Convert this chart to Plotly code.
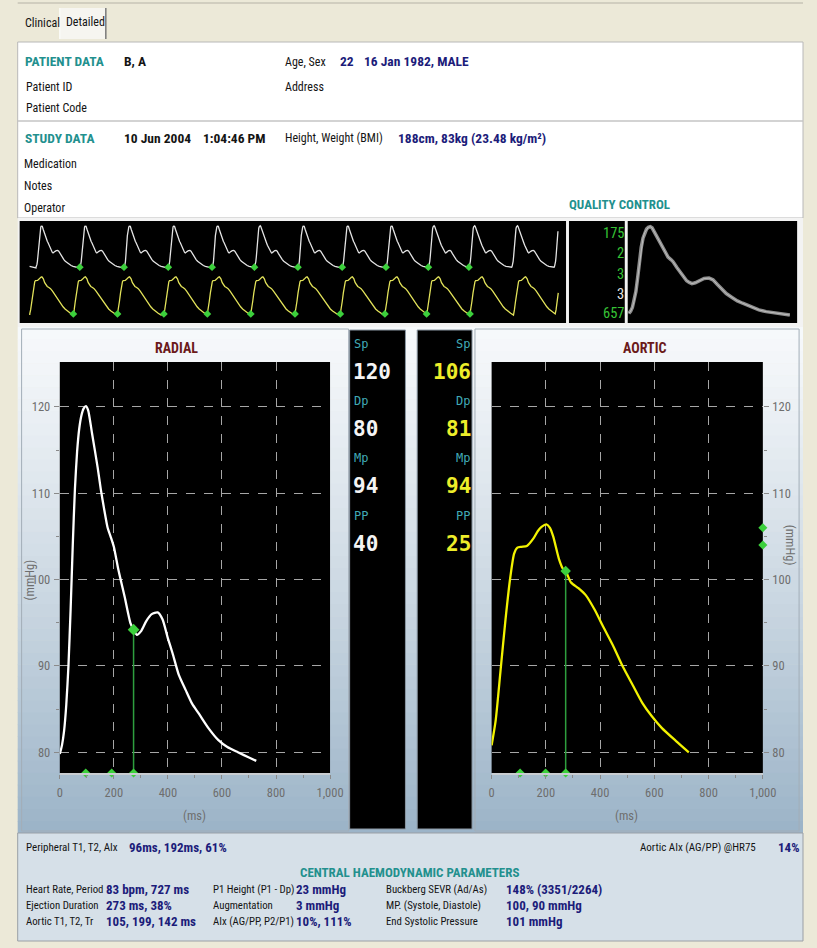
import numpy as np
import plotly.graph_objects as go

W, H = 817, 948

# ---------------- data ----------------
# One averaged radial (peripheral) beat: time (ms) / pressure (mmHg)
radial_t = [0, 8, 16, 24, 32, 40, 48, 56, 64, 72, 80, 88, 97, 105, 120, 140, 152, 165, 177,
            190, 200, 217, 240, 261, 273, 285, 300, 320, 340, 362, 380, 400, 417, 440, 466,
            490, 514, 550, 587, 620, 659, 700, 727]
radial_p = [79.8, 80.8, 82.5, 85.5, 90.0, 96.5, 104.0, 110.5, 114.8, 117.5, 119.0, 119.8, 120.1,
            119.6, 116.8, 113.0, 110.4, 108.0, 106.0, 104.8, 103.8, 101.1, 98.0, 95.0, 94.2,
            93.6, 94.0, 95.2, 96.0, 96.2, 95.4, 93.2, 91.5, 89.0, 87.2, 85.6, 84.5, 82.8, 81.4,
            80.6, 80.0, 79.4, 79.0]

# Derived central (aortic) beat
aortic_t = [0, 15, 33, 51, 69, 83, 95, 110, 130, 155, 170, 184, 202, 215, 227, 249, 262, 273,
            292, 320, 347, 380, 412, 450, 484, 520, 556, 590, 628, 680, 727]
aortic_p = [80.8, 83.7, 89.5, 95.3, 100.3, 103.0, 103.7, 103.8, 103.9, 104.8, 105.6, 106.1,
            106.4, 106.0, 105.0, 102.3, 101.3, 101.0, 99.7, 99.0, 98.2, 96.5, 94.5, 92.2, 89.9,
            87.8, 85.7, 84.2, 82.8, 81.3, 80.0]

# Beat onsets (ms) along the capture strip
radial_onsets = [273, 1005, 1744, 2483, 3215, 3923, 4650, 5389, 6121, 6829, 7507, 8222, 8931]
aortic_onsets = [169, 897, 1635, 2410, 3136, 3862, 4601, 5358, 6103, 6800, 7525, 8253, 8949]
strip_start, strip_end = 160, 9000

# Timing markers (ms)
peripheral_t1, peripheral_t2 = 96, 192
aortic_t1, aortic_t2 = 105, 199
ejection_duration = 273

pressure_names = ["Sp", "Dp", "Mp", "PP"]
radial_pressures = [120, 80, 94, 40]
aortic_pressures = [106, 81, 94, 25]
p1_height = 23

qc_values = ["175", "2", "3", "3", "657"]

ms_ticks = [0, 200, 400, 600, 800, 1000]
ms_minor = [100, 300, 500, 700, 900]
mmhg_ticks = [80, 90, 100, 110, 120]
mmhg_minor = [85, 95, 105, 115]

# ---------------- styling ----------------
NARROW = "Roboto Condensed, DejaVu Sans Condensed, sans-serif"
MONO = "DejaVu Sans Mono, Liberation Mono, monospace"
TEAL = "#22908E"
NAVY = "#1C1C7A"
INK = "#141414"
GREEN = "#3CD03C"
GREEN_LINE = "#2E9E3E"
TICK_TXT = "#6E6E6E"


def fx(px):
    return px / W


def fy(py):
    return 1 - py / H


shapes = []
annotations = []


def rect(x0, y0, x1, y1, fill, line=None, lw=1):
    shapes.append(dict(type="rect", xref="paper", yref="paper", layer="below",
                       x0=fx(x0), x1=fx(x1), y0=fy(y1), y1=fy(y0), fillcolor=fill,
                       line=dict(color=line if line else fill, width=lw if line else 0)))


def seg(x0, y0, x1, y1, color, lw=1):
    shapes.append(dict(type="line", xref="paper", yref="paper", layer="below",
                       x0=fx(x0), x1=fx(x1), y0=fy(y0), y1=fy(y1),
                       line=dict(color=color, width=lw)))


def text(s, px, py, size=12, color=INK, bold=False, anchor="left", family=NARROW, angle=0):
    annotations.append(dict(text=f"<b>{s}</b>" if bold else s, x=fx(px), y=fy(py),
                            xref="paper", yref="paper", xanchor=anchor, yanchor="middle",
                            showarrow=False, textangle=angle, borderpad=0,
                            font=dict(family=family, size=size, color=color)))


def hex_mix(c0, c1, t):
    a = [int(c0[i:i + 2], 16) for i in (1, 3, 5)]
    b = [int(c1[i:i + 2], 16) for i in (1, 3, 5)]
    return "#" + "".join(f"{round(a[k] + (b[k] - a[k]) * t):02x}" for k in range(3))


# ---------------- window furniture ----------------
seg(15, 3, 817, 3, "#B5B2A6", 1)
rect(58, 8, 105, 39, "#F6F5F0")
seg(105, 8, 105, 39, "#7A7A7A", 1.5)
seg(58, 8, 58, 39, "#FFFFFF", 1)
text("Clinical", 21, 23, 12)
text("Detailed", 63, 22, 12)

rect(15, 42, 817, 218, "#FFFFFF", "#B8B8B8", 1)
seg(15, 121, 817, 121, "#C4C4C4", 1.5)

text("PATIENT DATA", 21, 61, 13.5, TEAL, bold=True)
text("B, A", 123, 61, 13.5, INK, bold=True)
text("Age, Sex", 287, 62, 12)
text("22", 343, 61, 13.5, NAVY, bold=True)
text("16 Jan 1982, MALE", 368, 61, 13.5, NAVY, bold=True)
text("Patient ID", 22, 87, 12)
text("Address", 287, 87, 12)
text("Patient Code", 22, 108, 12)

text("STUDY DATA", 21, 138, 13.5, TEAL, bold=True)
text("10 Jun 2004", 123, 138, 13.5, INK, bold=True)
text("1:04:46 PM", 203, 138, 13.5, INK, bold=True)
text("Height, Weight (BMI)", 287, 138, 12)
text("188cm, 83kg (23.48 kg/m²)", 402, 138, 13.5, NAVY, bold=True)
text("Medication", 20, 164, 12)
text("Notes", 20, 186, 12)
text("Operator", 20, 208, 12)
text("QUALITY CONTROL", 630, 205, 13, TEAL, bold=True, anchor="center")

# strip row
rect(15, 218, 817, 327, "#F3F3F3")
rect(17, 221, 575, 323, "#000000")
rect(578, 221, 635, 323, "#000000")
rect(638, 221, 811, 323, "#000000")

# lower panels: vertical gradient
n_stripes = 42
top_y, bot_y = 327, 833
for i in range(n_stripes):
    y0 = top_y + (bot_y - top_y) * i / n_stripes
    y1 = top_y + (bot_y - top_y) * (i + 1) / n_stripes + 0.5
    t = (i + 0.5) / n_stripes
    rect(15, y0, 817, y1, hex_mix("#F7F9FB", "#9BB3C7", t ** 1.15))
rect(19, 329, 353, 831, "rgba(0,0,0,0)", "#A3AEB8", 1)
rect(482, 329, 813, 831, "rgba(0,0,0,0)", "#A3AEB8", 1)
rect(354, 330, 411, 829, "#000000", "#8C98A4", 1)
rect(423, 330, 479, 829, "#000000", "#8C98A4", 1)
rect(58, 362, 334, 773, "#000000")
rect(499, 362, 776, 773, "#000000")

# bottom parameter block
rect(15, 833, 817, 941, "#D6E0E8", "#9A9FA5", 1)

# ---------------- panel text ----------------
text("RADIAL", 177, 348, 14, "#6B1A1A", bold=True, anchor="center")
text("AORTIC", 655, 348, 14, "#6B1A1A", bold=True, anchor="center")
text("(mmHg)", 27, 580, 12.5, TICK_TXT, anchor="center", angle=-90)
text("(mmHg)", 805, 545, 12.5, TICK_TXT, anchor="center", angle=90)
text("(ms)", 196, 815, 12.5, TICK_TXT, anchor="center")
text("(ms)", 637, 815, 12.5, TICK_TXT, anchor="center")

row_y = [344, 401, 458, 516]
for k, name in enumerate(pressure_names):
    text(name, 357, row_y[k], 12, "#40AAB6", family=MONO)
    text(str(radial_pressures[k]), 356, row_y[k] + 28, 21, "#F4F4F4", bold=True, family=MONO)
    text(name, 478, row_y[k], 12, "#40AAB6", family=MONO, anchor="right")
    text(str(aortic_pressures[k]), 479, row_y[k] + 28, 21, "#EDED2A", bold=True,
         family=MONO, anchor="right")

qc_y = [234, 254, 274, 294, 313]
for k, v in enumerate(qc_values):
    text(v, 635, qc_y[k], 14.5, "#E6E6E6" if k == 3 else "#36C236", anchor="right")

# ---------------- bottom block text ----------------
text("Peripheral T1, T2, AIx", 22, 847, 11)
text("96ms, 192ms, 61%", 128, 847, 13, NAVY, bold=True)
text("Aortic AIx (AG/PP) @HR75", 650, 847, 11)
text("14%", 790, 847, 13, NAVY, bold=True)
text("CENTRAL HAEMODYNAMIC PARAMETERS", 415, 872, 13, TEAL, bold=True, anchor="center")

col_labels = [
    ["Heart Rate, Period", "Ejection Duration", "Aortic T1, T2, Tr"],
    ["P1 Height (P1 - Dp)", "Augmentation", "AIx (AG/PP, P2/P1)"],
    ["Buckberg SEVR (Ad/As)", "MP. (Systole, Diastole)", "End Systolic Pressure"],
]
col_values = [
    ["83 bpm, 727 ms", "273 ms, 38%", "105, 199, 142 ms"],
    ["23 mmHg", "3 mmHg", "10%, 111%"],
    ["148% (3351/2264)", "100, 90 mmHg", "101 mmHg"],
]
label_x = [22, 213, 390]
value_x = [104, 298, 513]
rows_y = [889, 905, 921]
for c in range(3):
    for r in range(3):
        text(col_labels[c][r], label_x[c], rows_y[r], 10.8)
        text(col_values[c][r], value_x[c], rows_y[r], 13, NAVY, bold=True)


# ---------------- traces ----------------
def tile(beat_t, beat_p, onsets, t0, t1):
    starts = [onsets[0] - beat_t[-1]] + list(onsets)
    ends = list(onsets) + [t1]
    xs, ys = [], []
    for s, e in zip(starts, ends):
        for bt, bp in zip(beat_t, beat_p):
            t = s + bt
            if t0 <= t <= e:
                xs.append(t)
                ys.append(bp)
    return xs, ys


fig = go.Figure()

sx, sy = tile(radial_t, radial_p, radial_onsets, strip_start, strip_end)
fig.add_trace(go.Scatter(x=sx, y=sy, mode="lines", line=dict(color="#E4E4E4", width=1.3),
                         xaxis="x", yaxis="y"))
fig.add_trace(go.Scatter(x=radial_onsets[1:11], y=[radial_p[0]] * 10, mode="markers",
                         marker=dict(symbol="diamond", size=6, color=GREEN),
                         xaxis="x", yaxis="y"))

ax_, ay_ = tile(aortic_t, aortic_p, aortic_onsets, strip_start, strip_end)
fig.add_trace(go.Scatter(x=ax_, y=ay_, mode="lines", line=dict(color="#E2E25A", width=1.3),
                         xaxis="x2", yaxis="y2"))
fig.add_trace(go.Scatter(x=aortic_onsets[1:11], y=[aortic_p[0]] * 10, mode="markers",
                         marker=dict(symbol="diamond", size=6, color=GREEN),
                         xaxis="x2", yaxis="y2"))

# quality-control overlay of the radial beat
fig.add_trace(go.Scatter(x=radial_t, y=radial_p, mode="lines",
                         line=dict(color="#8E8E8E", width=3.5), xaxis="x3", yaxis="y3"))
fig.add_trace(go.Scatter(x=radial_t, y=radial_p, mode="lines",
                         line=dict(color="#BDBDBD", width=1), xaxis="x3", yaxis="y3"))

y_lo, y_hi = 77.6, 125.2

# radial panel
rad_es = float(np.interp(ejection_duration, radial_t, radial_p))
fig.add_trace(go.Scatter(x=[ejection_duration, ejection_duration], y=[y_lo, rad_es],
                         mode="lines", line=dict(color=GREEN_LINE, width=1.5),
                         xaxis="x4", yaxis="y4"))
fig.add_trace(go.Scatter(x=radial_t, y=radial_p, mode="lines",
                         line=dict(color="#FFFFFF", width=2.3, shape="spline", smoothing=0.6),
                         xaxis="x4", yaxis="y4"))
fig.add_trace(go.Scatter(x=[ejection_duration], y=[rad_es], mode="markers",
                         marker=dict(symbol="diamond", size=9, color=GREEN),
                         xaxis="x4", yaxis="y4"))
fig.add_trace(go.Scatter(x=[peripheral_t1, peripheral_t2, ejection_duration], y=[y_lo] * 3,
                         mode="markers", cliponaxis=False,
                         marker=dict(symbol="diamond", size=7, color=GREEN),
                         xaxis="x4", yaxis="y4"))

# aortic panel
aor_es = float(np.interp(ejection_duration, aortic_t, aortic_p))
fig.add_trace(go.Scatter(x=[ejection_duration, ejection_duration], y=[y_lo, aor_es],
                         mode="lines", line=dict(color=GREEN_LINE, width=1.5),
                         xaxis="x5", yaxis="y5"))
fig.add_trace(go.Scatter(x=aortic_t, y=aortic_p, mode="lines",
                         line=dict(color="#F2F200", width=2.3, shape="spline", smoothing=0.6),
                         xaxis="x5", yaxis="y5"))
fig.add_trace(go.Scatter(x=[ejection_duration], y=[aor_es], mode="markers",
                         marker=dict(symbol="diamond", size=8, color=GREEN),
                         xaxis="x5", yaxis="y5"))
fig.add_trace(go.Scatter(x=[aortic_t1, aortic_t2, ejection_duration], y=[y_lo] * 3,
                         mode="markers", cliponaxis=False,
                         marker=dict(symbol="diamond", size=7, color=GREEN),
                         xaxis="x5", yaxis="y5"))
fig.add_trace(go.Scatter(x=[1000, 1000],
                         y=[aortic_pressures[0], aortic_pressures[1] + p1_height],
                         mode="markers", cliponaxis=False,
                         marker=dict(symbol="diamond", size=7, color=GREEN),
                         xaxis="x5", yaxis="y5"))

# ---------------- axes ----------------
hidden = dict(visible=False, fixedrange=True, showgrid=False, zeroline=False)


def ms_axis(x0, x1, anchor):
    return dict(domain=[fx(x0), fx(x1)], range=[0, 1000], anchor=anchor,
                tickmode="array", tickvals=ms_ticks, ticktext=[f"{v:,}" for v in ms_ticks],
                ticks="outside", ticklen=4, tickcolor="#8A8A8A", ticklabelstandoff=3,
                showgrid=True, gridcolor="#A6A6A6", griddash="dash", gridwidth=1,
                showline=True, linecolor="#C9CDD1", linewidth=2, zeroline=False,
                tickfont=dict(family=NARROW, size=12.5, color=TICK_TXT),
                minor=dict(tickmode="array", tickvals=ms_minor, ticks="outside",
                           ticklen=3, tickcolor="#8A8A8A", showgrid=False),
                fixedrange=True)


def mmhg_axis(anchor, side):
    return dict(domain=[fy(773), fy(362)], range=[y_lo, y_hi], anchor=anchor, side=side,
                tickmode="array", tickvals=mmhg_ticks, ticks="outside", ticklen=5,
                tickcolor="#8A8A8A", ticklabelstandoff=1,
                showgrid=True, gridcolor="#A6A6A6", griddash="dash", gridwidth=1,
                showline=False, zeroline=False,
                tickfont=dict(family=NARROW, size=12.5, color=TICK_TXT),
                minor=dict(tickmode="array", tickvals=mmhg_minor, ticks="outside",
                           ticklen=3, tickcolor="#8A8A8A", showgrid=False),
                fixedrange=True)


fig.update_layout(
    width=W, height=H, margin=dict(l=0, r=0, t=0, b=0),
    paper_bgcolor="#ECE9D8", plot_bgcolor="rgba(0,0,0,0)",
    showlegend=False, hovermode=False,
    shapes=shapes, annotations=annotations,
    xaxis=dict(domain=[fx(17), fx(575)], range=[0, 9130], anchor="y", **hidden),
    yaxis=dict(domain=[fy(272), fy(222)], range=[75.1, 123.8], anchor="x", **hidden),
    xaxis2=dict(domain=[fx(17), fx(575)], range=[0, 9130], anchor="y2", **hidden),
    yaxis2=dict(domain=[fy(321), fy(273)], range=[75.9, 109.0], anchor="x2", **hidden),
    xaxis3=dict(domain=[fx(638), fx(811)], range=[-5, 760], anchor="y3", **hidden),
    yaxis3=dict(domain=[fy(323), fy(222)], range=[75.3, 122.3], anchor="x3", **hidden),
    xaxis4=ms_axis(58, 334, "y4"),
    yaxis4=mmhg_axis("x4", "left"),
    xaxis5=ms_axis(499, 776, "y5"),
    yaxis5=mmhg_axis("x5", "right"),
)

fig.write_html("out.html", config={"displayModeBar": False})
